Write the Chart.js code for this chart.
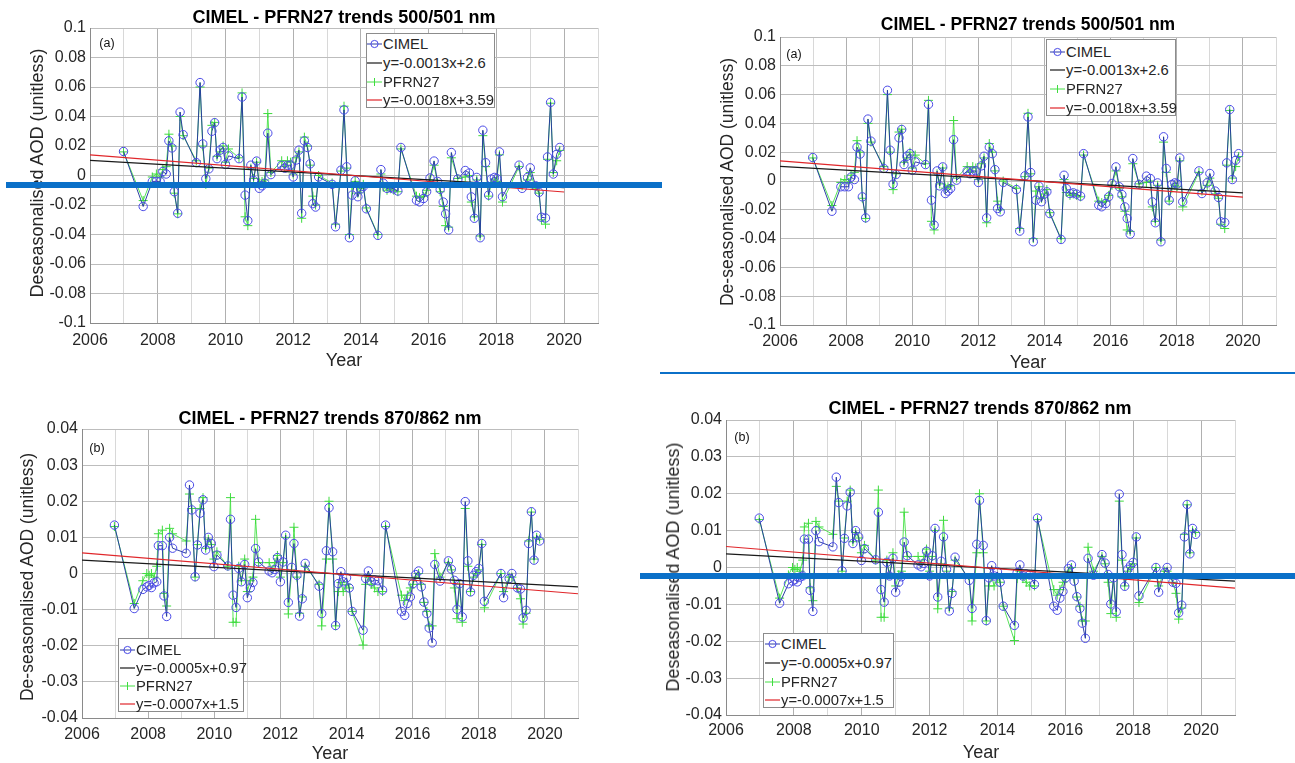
<!DOCTYPE html>
<html><head><meta charset="utf-8">
<script src="https://cdn.jsdelivr.net/npm/chart.js@4.4.1/dist/chart.umd.min.js"></script>
<style>
html,body{margin:0;padding:0;background:#fff}
body{width:1295px;height:763px;position:relative;overflow:hidden;font-family:"Liberation Sans",Arial,sans-serif}
canvas{position:absolute}
.t{position:absolute;white-space:nowrap;color:#262626;line-height:1}
.c{transform:translate(-50%,-50%)}
.r{transform:translate(-50%,-50%) rotate(-90deg)}
.leg{position:absolute;border:1px solid #8c8c8c;background:#fff;box-sizing:border-box}
.row{position:absolute;left:0;height:18px;display:flex;align-items:center;font-size:14.8px;color:#262626;white-space:nowrap}
.bar{position:absolute;background:#0b70c8}
</style>
</head><body>
<canvas id="c1"></canvas><canvas id="c2"></canvas><canvas id="c3"></canvas><canvas id="c4"></canvas>
<script>
// ---------- DATA: 500/501 nm ----------
const years500 = [2006.99,2007.57,2007.84,2007.96,2008.07,2008.15,2008.25,2008.33,2008.42,2008.49,
2008.59,2008.66,2008.75,2009.14,2009.25,2009.33,2009.42,2009.51,2009.60,2009.68,
2009.75,2009.84,2009.93,2010.00,2010.09,2010.40,2010.49,2010.58,2010.66,2010.75,
2010.83,2010.92,2011.00,2011.08,2011.16,2011.25,2011.34,2011.66,2011.75,2011.83,
2011.92,2012.00,2012.09,2012.17,2012.25,2012.33,2012.42,2012.50,2012.58,2012.66,
2012.75,2013.15,2013.25,2013.41,2013.50,2013.58,2013.66,2013.74,2013.83,2013.91,
2014.00,2014.07,2014.16,2014.50,2014.59,2014.66,2014.77,2014.87,2014.97,2015.09,
2015.18,2015.64,2015.73,2015.85,2015.94,2016.04,2016.16,2016.26,2016.34,2016.43,
2016.50,2016.59,2016.67,2016.86,2017.08,2017.20,2017.26,2017.35,2017.42,2017.52,
2017.60,2017.68,2017.77,2017.85,2017.94,2018.01,2018.09,2018.18,2018.67,2018.76,
2018.92,2019.00,2019.16,2019.26,2019.33,2019.45,2019.51,2019.60,2019.68,2019.78,
2019.87];
const cimel500 = [0.0163,-0.021,-0.004,-0.004,-0.004,0.0027,0.001,0.0235,0.0187,-0.011,
-0.0256,0.043,0.0277,0.0087,0.063,0.0214,-0.0022,0.0045,0.030,0.0358,
0.0114,0.0172,0.019,0.0075,0.0133,0.0114,0.0532,-0.0133,-0.0306,0.007,
-0.0034,0.0098,-0.0087,-0.007,-0.0052,0.0287,0.0006,0.0069,0.005,0.0069,
0.007,-0.001,0.0105,0.0172,-0.0256,0.0235,0.019,0.0079,-0.0191,-0.0214,
-0.001,-0.006,-0.0348,0.0036,0.0445,0.0059,-0.0422,-0.0133,-0.0036,-0.0144,
-0.009,-0.0075,-0.0226,-0.0406,0.004,-0.0052,-0.0087,-0.0082,-0.0091,-0.0105,
0.019,-0.0168,-0.0179,-0.0156,-0.011,-0.0017,0.0098,-0.004,-0.0094,-0.018,
-0.026,-0.0369,0.0156,-0.0024,0.0034,0.0017,-0.0145,-0.029,-0.0013,-0.0422,
0.0307,0.0087,-0.0133,-0.0024,-0.0013,-0.002,0.016,-0.0144,0.007,-0.0087,
-0.0013,0.0052,-0.007,-0.0114,-0.0283,-0.0288,0.0126,0.0496,0.001,0.0144,
0.019];
const pfrn500 = [0.016,-0.017,-0.001,0.001,-0.001,0.004,0.006,0.028,0.020,-0.012,
-0.026,0.040,0.027,0.010,0.060,0.020,-0.006,0.005,0.034,0.036,
0.013,0.016,0.020,0.009,0.018,0.012,0.056,-0.028,-0.034,0.005,
-0.002,0.009,-0.005,-0.004,-0.003,0.042,0.002,0.010,0.006,0.010,
0.009,0.001,0.012,0.016,-0.029,0.026,0.020,0.007,-0.014,-0.020,
0.000,-0.005,-0.033,0.003,0.047,0.005,-0.040,-0.007,-0.004,-0.012,
-0.009,-0.006,-0.022,-0.040,0.001,-0.008,-0.010,-0.009,-0.010,-0.011,
0.018,-0.014,-0.015,-0.014,-0.010,-0.003,0.007,-0.005,-0.011,-0.021,
-0.034,-0.035,0.012,-0.002,-0.001,0.000,-0.018,-0.028,-0.003,-0.041,
0.027,0.006,-0.014,-0.005,-0.003,-0.004,0.014,-0.018,0.006,-0.007,
-0.003,0.002,-0.009,-0.012,-0.030,-0.033,0.011,0.049,0.002,0.010,
0.017];
const trendYears500 = [2006, 2020];
const cimelTrend500 = [0.0102, -0.0082];
const pfrnTrend500 = [0.0140, -0.0112];

// ---------- DATA: 870/862 nm ----------
const years870 = [2006.98,2007.58,2007.84,2007.96,2008.03,2008.10,2008.18,2008.26,2008.31,2008.43,
2008.48,2008.56,2008.65,2008.74,2009.15,2009.25,2009.32,2009.42,2009.49,2009.57,
2009.66,2009.74,2009.82,2009.91,2009.99,2010.08,2010.41,2010.49,2010.57,2010.66,
2010.74,2010.82,2010.92,2011.00,2011.09,2011.17,2011.25,2011.34,2011.66,2011.75,
2011.83,2011.91,2012.00,2012.08,2012.16,2012.24,2012.34,2012.41,2012.50,2012.58,
2012.66,2012.75,2013.17,2013.25,2013.39,2013.47,2013.58,2013.67,2013.75,2013.83,
2013.90,2014.00,2014.08,2014.17,2014.50,2014.58,2014.66,2014.75,2014.85,2014.95,
2015.09,2015.18,2015.66,2015.76,2015.84,2015.93,2016.01,2016.09,2016.18,2016.26,
2016.34,2016.43,2016.50,2016.59,2016.67,2016.83,2017.08,2017.17,2017.26,2017.34,
2017.42,2017.50,2017.59,2017.67,2017.75,2017.84,2017.92,2018.00,2018.09,2018.17,
2018.67,2018.75,2018.92,2019.00,2019.17,2019.26,2019.34,2019.43,2019.51,2019.59,
2019.67,2019.75,2019.84];
const cimel870 = [0.0134,-0.0097,-0.0044,-0.0037,-0.0033,-0.0039,-0.0026,-0.0023,0.0077,0.0077,
-0.0062,-0.0119,0.010,0.007,0.0056,0.0245,0.0176,-0.0009,0.0079,0.0167,
0.0204,0.0065,0.010,0.0083,0.0019,0.0051,0.0021,0.015,-0.006,-0.0094,
0.0014,-0.0023,0.0025,-0.0067,-0.004,-0.0025,0.0069,0.0032,0.0007,0.0002,
0.0011,0.0044,-0.0023,0.0032,0.0106,-0.008,0.0017,0.0083,-0.0005,-0.0118,
-0.007,0.0028,-0.0035,-0.0111,0.0063,0.0182,0.006,-0.0144,-0.0028,0.0005,
-0.0023,-0.0012,-0.004,-0.0105,-0.0157,-0.0014,0.0007,-0.0023,-0.0018,-0.002,
-0.0046,0.0134,-0.0105,-0.0116,-0.0083,-0.0065,-0.0028,-0.0003,0.0007,-0.0037,
-0.0079,-0.0111,-0.0151,-0.0192,0.0025,-0.0021,0.0035,0.0012,-0.0019,-0.0099,
-0.0028,-0.012,0.0199,0.0035,-0.0051,-0.0005,0.0005,0.0014,0.0083,-0.0077,
0.0,-0.0067,-0.0014,0.0,-0.004,-0.0043,-0.0123,-0.0102,0.0083,0.0171,
0.0037,0.0106,0.009];
const pfrn870 = [0.013,-0.0083,-0.002,0.0,-0.0005,0.0,-0.001,0.002,0.011,0.012,
-0.0055,-0.009,0.0125,0.011,0.009,0.022,0.018,-0.001,0.008,0.018,
0.021,0.007,0.0095,0.008,0.004,0.006,0.002,0.021,-0.0135,-0.0135,
0.002,-0.002,0.004,-0.005,-0.002,-0.001,0.015,0.003,0.003,0.001,
0.003,0.005,-0.001,0.003,0.010,-0.0112,0.001,0.0128,-0.001,-0.011,
-0.0065,0.002,-0.003,-0.0145,0.004,0.020,0.004,-0.0145,-0.005,-0.0025,
-0.005,-0.003,-0.004,-0.0105,-0.0198,-0.003,-0.001,-0.003,-0.004,-0.005,
-0.005,0.013,-0.006,-0.0075,-0.006,-0.004,-0.003,-0.001,0.0,-0.003,
-0.008,-0.0105,-0.0145,-0.0145,0.0055,-0.001,0.003,0.001,-0.004,-0.0125,
-0.003,-0.0135,0.018,0.002,-0.005,-0.001,0.0,0.001,0.008,-0.0095,
0.0,-0.005,-0.001,-0.001,-0.004,-0.007,-0.014,-0.011,0.009,0.017,
0.004,0.010,0.0095];
const trendYears870 = [2006, 2021];
const cimelTrend870 = [0.0037, -0.0037];
const pfrnTrend870 = [0.0057, -0.0056];

// ---------- TEXT ----------
const title500 = 'CIMEL - PFRN27 trends 500/501 nm';
const title870 = 'CIMEL - PFRN27 trends 870/862 nm';
const legendLabels500 = ['CIMEL','y=-0.0013x+2.6','PFRN27','y=-0.0018x+3.59'];
const legendLabels870 = ['CIMEL','y=-0.0005x+0.97','PFRN27','y=-0.0007x+1.5'];

Chart.defaults.font.family = '"Liberation Sans", Arial, sans-serif';

const BLUE_LINE = 'rgba(35,55,160,0.95)';
const BLUE_MK = '#4a4ae6';
const GREEN = 'rgba(70,225,70,0.9)';

function makeChart(id, p, yr, cim, pfr, tx, tb, tr, ymin, ymax, ystep){
  const cv = document.getElementById(id);
  cv.width = p.w; cv.height = p.h;
  cv.style.left = p.x + 'px'; cv.style.top = p.y + 'px';
  new Chart(cv, {
    type: 'scatter',
    data: { datasets: [
      {type:'line', data: tx.map((x,i)=>({x:x, y:tr[i]})), borderColor:'#e0262a', borderWidth:1.2, pointRadius:0, fill:false},
      {type:'line', data: tx.map((x,i)=>({x:x, y:tb[i]})), borderColor:'#1a1a1a', borderWidth:1.2, pointRadius:0, fill:false},
      {type:'line', data: yr.map((x,i)=>({x:x, y:cim[i]})), borderColor:BLUE_LINE, borderWidth:1,
        pointStyle:'circle', pointRadius:4.2, pointBorderColor:BLUE_MK, pointBackgroundColor:'rgba(0,0,0,0)', pointBorderWidth:1, fill:false},
      {type:'line', data: yr.map((x,i)=>({x:x, y:pfr[i]})), borderColor:GREEN, borderWidth:1,
        pointStyle:'cross', pointRadius:4.5, pointBorderColor:'#3fdc3f', pointBorderWidth:1, fill:false}
    ]},
    options: {
      responsive:false, animation:false, devicePixelRatio:1,
      layout:{padding:{top:p.pt, right:p.pr, left:0, bottom:0}},
      plugins:{legend:{display:false}, tooltip:{enabled:false}, title:{display:false}},
      scales:{
        x:{type:'linear', min:2006, max:2021,
          afterFit(s){ s.height = p.xh; },
          ticks:{stepSize:1, autoSkip:false, maxRotation:0, padding:p.xpad, font:{size:16}, color:'#262626',
            callback:(v)=> (Math.round(v)%2===0 ? String(Math.round(v)) : '')},
          grid:{drawTicks:false, lineWidth:1,
            color:(ctx)=> (ctx.tick && Math.round(ctx.tick.value)%2===0 ? '#b0b0b0' : '#d8d8d8')},
          border:{color:'#8a8a8a'}},
        y:{min:ymin, max:ymax,
          afterFit(s){ s.width = p.yw; },
          ticks:{stepSize:ystep, padding:4, font:{size:16}, color:'#262626',
            callback:(v)=> String(Number(v.toFixed(3)))},
          grid:{drawTicks:false, color:'#bdbdbd'},
          border:{color:'#8a8a8a'}}
      }
    }
  });
}

makeChart('c1', {x:0,y:0,w:640,h:380,pt:28,pr:42,yw:90,xh:57,xpad:8},
  years500, cimel500, pfrn500, trendYears500, cimelTrend500, pfrnTrend500, -0.1, 0.1, 0.02);
makeChart('c2', {x:660,y:0,w:635,h:380,pt:37,pr:19,yw:120,xh:55,xpad:7},
  years500, cimel500, pfrn500, trendYears500, cimelTrend500, pfrnTrend500, -0.1, 0.1, 0.02);
makeChart('c3', {x:0,y:390,w:630,h:373,pt:39,pr:52,yw:82,xh:45,xpad:7},
  years870, cimel870, pfrn870, trendYears870, cimelTrend870, pfrnTrend870, -0.04, 0.04, 0.01);
makeChart('c4', {x:640,y:390,w:655,h:373,pt:30,pr:60,yw:86,xh:48,xpad:6},
  years870, cimel870, pfrn870, trendYears870, cimelTrend870, pfrnTrend870, -0.04, 0.04, 0.01);

// ---------- overlay text ----------
function txt(s, x, y, cls, style){
  const d = document.createElement('div');
  d.className = 't ' + cls; d.textContent = s;
  d.style.left = x + 'px'; d.style.top = y + 'px';
  Object.assign(d.style, style || {});
  document.body.appendChild(d);
}
const titleStyle = {fontWeight:'bold', fontSize:'18px', color:'#000'};
txt(title500, 344, 17, 'c', titleStyle);
txt(title500, 1028, 25, 'c', Object.assign({}, titleStyle, {fontSize:'17.5px'}));
txt(title870, 330, 418, 'c', titleStyle);
txt(title870, 980, 408, 'c', titleStyle);

const yearStyle = {fontSize:'18px'};
txt('Year', 344, 360, 'c', yearStyle);
txt('Year', 1028, 362, 'c', yearStyle);
txt('Year', 330, 753, 'c', yearStyle);
txt('Year', 981, 752, 'c', yearStyle);

txt('Deseasonalised AOD (unitless)', 37, 173, 'r', {fontSize:'18px'});
txt('De-seasonalised AOD (unitless)', 728, 182, 'r', {fontSize:'17.5px'});
txt('De-seasonalised AOD (unitless)', 28, 577, 'r', {fontSize:'17.5px'});
txt('Deseasonalised AOD (unitless)', 673, 567, 'r', {fontSize:'18px'});

const tagStyle = {fontSize:'12.5px', color:'#111'};
txt('(a)', 107, 43, 'c', tagStyle);
txt('(a)', 794, 54, 'c', tagStyle);
txt('(b)', 97, 448, 'c', tagStyle);
txt('(b)', 742, 437, 'c', tagStyle);

// ---------- legends ----------
function sym(kind){
  const ns = 'http://www.w3.org/2000/svg';
  const s = document.createElementNS(ns,'svg');
  s.setAttribute('width','15'); s.setAttribute('height','12');
  s.style.marginRight = '1px'; s.style.flex = '0 0 auto';
  let html = '';
  if (kind===0) html = '<line x1="0" y1="6" x2="15" y2="6" stroke="#2a3aa8" stroke-width="1"/><circle cx="7.5" cy="6" r="3.6" fill="none" stroke="#4a4ae6" stroke-width="1"/>';
  if (kind===1) html = '<line x1="0" y1="6" x2="15" y2="6" stroke="#1a1a1a" stroke-width="1.2"/>';
  if (kind===2) html = '<line x1="0" y1="6" x2="15" y2="6" stroke="#46e146" stroke-width="1"/><line x1="7.5" y1="2" x2="7.5" y2="10" stroke="#3fdc3f" stroke-width="1"/>';
  if (kind===3) html = '<line x1="0" y1="6" x2="15" y2="6" stroke="#e0262a" stroke-width="1.2"/>';
  s.innerHTML = html;
  return s;
}
function legend(x, y, w, h, rows, symX, labels){
  const L = document.createElement('div');
  L.className = 'leg';
  Object.assign(L.style, {left:x+'px', top:y+'px', width:w+'px', height:h+'px'});
  labels.forEach((lab, i)=>{
    const r = document.createElement('div');
    r.className = 'row';
    r.style.top = (rows[i]-9) + 'px';
    r.style.left = symX + 'px';
    r.appendChild(sym(i));
    const sp = document.createElement('span'); sp.textContent = lab;
    r.appendChild(sp);
    L.appendChild(r);
  });
  document.body.appendChild(L);
}
legend(366, 33, 129, 75, [10,29,48,66], 0, legendLabels500);
legend(1046, 39, 130, 77, [12,30,49,68], 3, legendLabels500);
legend(118, 638, 126, 74, [11,29,47,65], 1, legendLabels870);
legend(763, 633, 131, 75, [10,29,48,66], 1, legendLabels870);

// ---------- blue marker lines (annotations in the reference) ----------
function bar(x, y, w, h){
  const d = document.createElement('div'); d.className = 'bar';
  Object.assign(d.style, {left:x+'px', top:y+'px', width:w+'px', height:h+'px'});
  document.body.appendChild(d);
}
bar(6, 182, 656, 6);
bar(660, 372, 635, 2);
bar(640, 573, 655, 6);
</script>
</body></html>
